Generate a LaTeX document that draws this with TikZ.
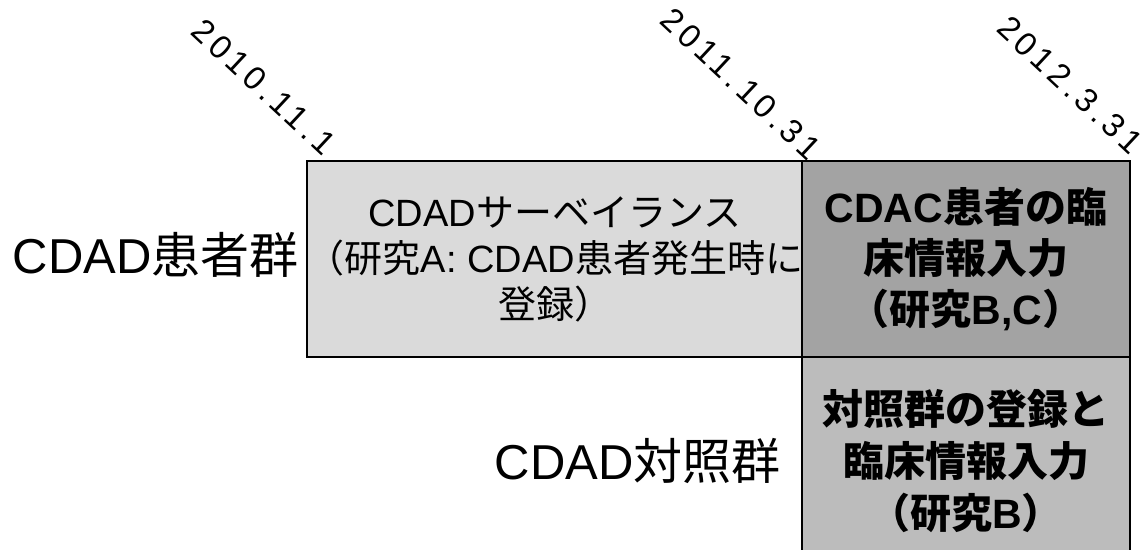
\documentclass[tikz,border=0pt]{standalone}
\usepackage{fontspec}
\setmainfont{Liberation Sans}
\newfontfamily\J{Noto Sans CJK JP}
\newfontfamily\datefont[LetterSpace=14]{Liberation Sans}
\newcommand\jp[1]{{\J #1}}
\definecolor{fillA}{RGB}{218,218,218}
\definecolor{fillB}{RGB}{163,163,163}
\definecolor{fillC}{RGB}{188,188,188}
\tikzset{
  x=1pt, y=-1pt,
  period/.style={draw=black, line width=1.3pt, inner sep=0pt, align=center, text=black},
  grouplabel/.style={inner sep=0pt, font=\fontsize{49}{52}\selectfont},
  datelabel/.style={inner sep=0pt, rotate=-43, font=\datefont\fontsize{33}{36}\selectfont},
}
\begin{document}
\begin{tikzpicture}
\useasboundingbox[fill=white] (0,0) rectangle (1145,549);
% period boxes
\node[period, fill=fillA, minimum width=494pt, minimum height=196pt,
      font=\fontsize{38}{46}\selectfont] (surv) at (555,259)
  {CDAD\jp{サーベイランス}\\\jp{（研究}A: CDAD\jp{患者発生時に}\\\jp{登録）}};
\node[period, fill=fillB, minimum width=328pt, minimum height=196pt,
      font=\bfseries\fontsize{41}{51}\selectfont] (clin) at (966,259)
  {CDAC\jp{患者の臨}\\\jp{床情報入力}\\\jp{（研究}B,C\jp{）}};
\node[period, fill=fillC, minimum width=328pt, minimum height=208pt,
      font=\bfseries\fontsize{41}{52}\selectfont] (ctrl) at (966,461)
  {\jp{対照群の登録と}\\\jp{臨床情報入力}\\\jp{（研究}B\jp{）}};
% group labels
\node[grouplabel, anchor=east] (pat) at (299,255) {CDAD\jp{患者群}};
\node[grouplabel, anchor=east] (con) at (781,461) {CDAD\jp{対照群}};
% dates
\node[datelabel] (d1) at (264,87) {2010.11.1};
\node[datelabel] (d2) at (741,84) {2011.10.31};
\node[datelabel] (d3) at (1070,85) {2012.3.31};
\end{tikzpicture}
\end{document}
